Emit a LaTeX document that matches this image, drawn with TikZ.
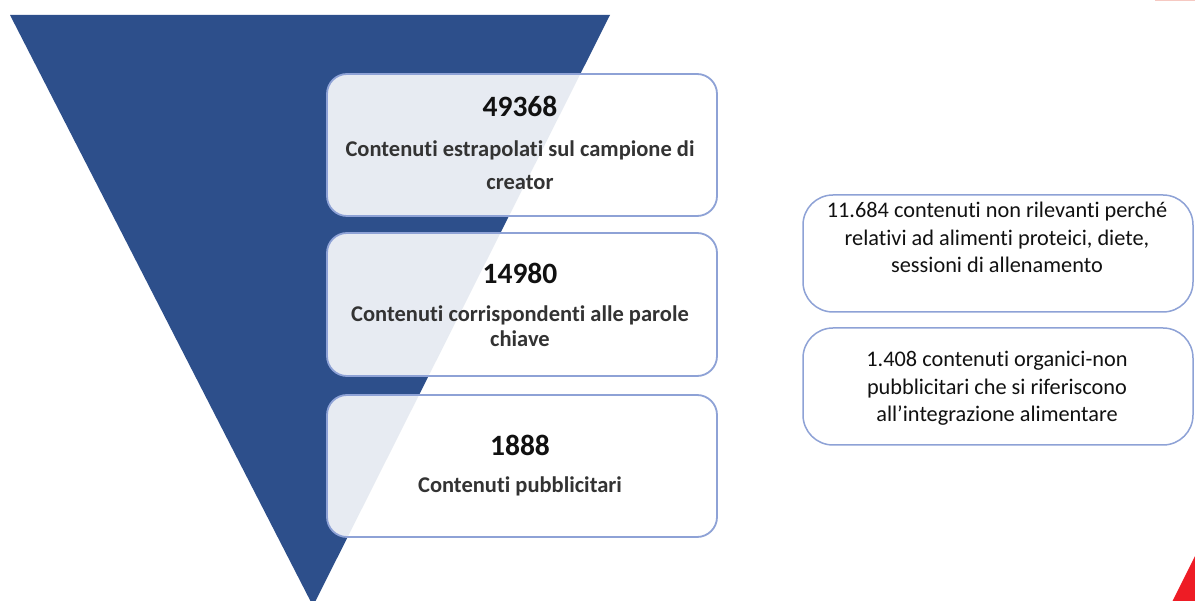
\documentclass[tikz,border=0pt]{standalone}
\usepackage{fontspec}
\setmainfont[Ligatures=NoCommon]{Carlito}
\definecolor{funnel}{HTML}{2D4F8B}
\definecolor{edge}{HTML}{8EA2D6}
\definecolor{labtxt}{HTML}{333333}
\definecolor{numtxt}{HTML}{111111}
\definecolor{redc}{HTML}{EE1C25}
\definecolor{pinkc}{HTML}{F6C9C2}
\tikzset{
  lbox/.style={draw=edge, line width=1.8pt, fill=white, fill opacity=0.89, draw opacity=1,
    rounded corners=20pt, minimum width=390pt, inner sep=0pt},
  rbox/.style={draw=edge, line width=1.5pt, fill=white, rounded corners=30pt,
    minimum width=390pt, minimum height=117pt, inner sep=0pt},
  numlbl/.style={anchor=base, inner sep=0pt, text=numtxt, font=\fontsize{29.5}{32}\selectfont\bfseries},
  sublbl/.style={anchor=base, inner sep=0pt, text=labtxt, font=\fontsize{22.5}{26}\selectfont\bfseries},
  rlbl/.style={anchor=base, inner sep=0pt, text=numtxt, font=\fontsize{22.3}{26}\selectfont},
}
\begin{document}
\begin{tikzpicture}[x=1pt,y=-1pt]
\clip (0,0) rectangle (1195,601);
\fill[white] (0,0) rectangle (1195,601);
% funnel
\fill[funnel] (10,15) -- (610,15) -- (313,606) -- cycle;
% red accents
\fill[redc] (1172,602) -- (1196,554) -- (1196,602) -- cycle;
\draw[pinkc, line width=1.2pt] (1155,0.5) -- (1195,0.5);
% left boxes
\node[lbox, minimum height=142pt] (b1) at (522,145) {};
\node[lbox, minimum height=143pt] (b2) at (522,304.5) {};
\node[lbox, minimum height=142pt] (b3) at (522,466) {};
% left texts
\node[numlbl] (n1) at (520,117) {49368};
\node[sublbl] (t1a) at (520,157) {Contenuti estrapolati sul campione di};
\node[sublbl] (t1b) at (520,190) {creator};
\node[numlbl] (n2) at (520,284) {14980};
\node[sublbl] (t2a) at (520,321.5) {Contenuti corrispondenti alle parole};
\node[sublbl] (t2b) at (520,346.5) {chiave};
\node[numlbl] (n3) at (520,456) {1888};
\node[sublbl] (t3a) at (520,493) {Contenuti pubblicitari};
% right boxes
\node[rbox] (ra) at (998,253.5) {};
\node[rbox] (rb) at (998,386.5) {};
\node[rlbl] (ra1) at (997,218) {11.684 contenuti non rilevanti perché};
\node[rlbl] (ra2) at (997,245.5) {relativi ad alimenti proteici, diete,};
\node[rlbl] (ra3) at (997,273) {sessioni di allenamento};
\node[rlbl] (rb1) at (997,367) {1.408 contenuti organici-non};
\node[rlbl] (rb2) at (997,394.5) {pubblicitari che si riferiscono};
\node[rlbl] (rb3) at (997,422) {all’integrazione alimentare};
\end{tikzpicture}
\end{document}
